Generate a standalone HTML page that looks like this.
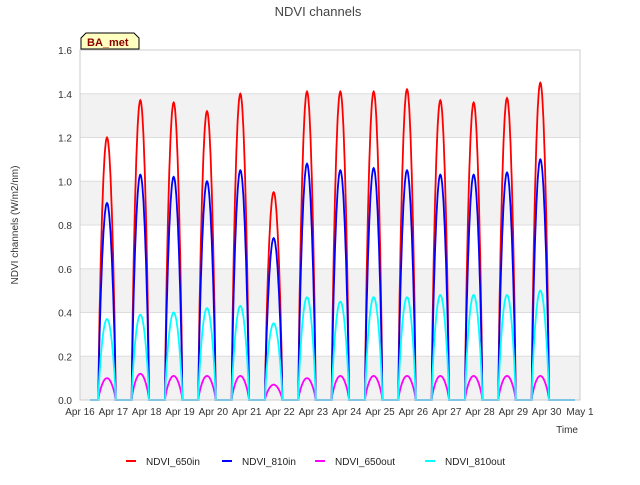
<!DOCTYPE html>
<html><head><meta charset="utf-8"><style>
body{margin:0;background:#fff;font-family:"Liberation Sans","DejaVu Sans",sans-serif}
</style></head><body>
<svg id="c" width="640" height="480" xmlns="http://www.w3.org/2000/svg">
<rect width="640" height="480" fill="#fff"/>
<text x="318" y="16" text-anchor="middle" font-size="13" fill="#444">NDVI channels</text>
<g id="bands"></g><g id="grid"></g>
<g id="series"></g>
<g id="axes"></g>
<text x="18" y="225" transform="rotate(-90 18 225)" text-anchor="middle" font-size="10" fill="#333">NDVI channels (W/m2/nm)</text>
<text x="578" y="433" text-anchor="end" font-size="10" fill="#333">Time</text>
<g>
<path d="M81,49 L81,38 L86,33 L134,33 L139,38 L139,49 Z" fill="#ffffc0" stroke="#000" stroke-width="1"/>
<text x="87" y="46" font-size="11" font-weight="bold" fill="#8b0000">BA_met</text></g>
<g id="legend"></g>
</svg>
<script>
const dayLabels=["Apr 16","Apr 17","Apr 18","Apr 19","Apr 20","Apr 21","Apr 22","Apr 23","Apr 24","Apr 25","Apr 26","Apr 27","Apr 28","Apr 29","Apr 30","May 1"];
const yTicks=[0,0.2,0.4,0.6,0.8,1.0,1.2,1.4,1.6];
const seriesNames=["NDVI_650in","NDVI_810in","NDVI_650out","NDVI_810out"];
const seriesColors=["#ff0000","#0000ff","#ff00ff","#00ffff"];
const peaks650in=[1.2,1.37,1.36,1.32,1.40,0.95,1.41,1.41,1.41,1.42,1.37,1.36,1.38,1.45];
const peaks810in=[0.9,1.03,1.02,1.0,1.05,0.74,1.08,1.05,1.06,1.05,1.03,1.03,1.04,1.1];
const peaks650out=[0.1,0.12,0.11,0.11,0.11,0.07,0.1,0.11,0.11,0.11,0.11,0.11,0.11,0.11];
const peaks810out=[0.37,0.39,0.40,0.42,0.43,0.35,0.47,0.45,0.47,0.47,0.48,0.48,0.48,0.5];
const allPeaks=[peaks650in,peaks810in,peaks650out,peaks810out];
const L=80,R=580,T=50,B=400;
const xs=d=>L+(d/15)*(R-L), ys=v=>B-(v/1.6)*(B-T);
const NS="http://www.w3.org/2000/svg";
function mk(tag,attrs,parent){const e=document.createElementNS(NS,tag);for(const k in attrs)e.setAttribute(k,attrs[k]);parent.appendChild(e);return e;}
const bands=document.getElementById('bands'),grid=document.getElementById('grid'),axes=document.getElementById('axes');
mk('rect',{x:L,y:T,width:R-L,height:B-T,fill:'#fff'},bands);
for(let i=1;i<yTicks.length;i+=2){
 const b=mk('rect',{x:L,y:ys(yTicks[i]),width:R-L,height:ys(yTicks[i-1])-ys(yTicks[i]),fill:'#f2f2f2'},bands);
 
 
}
yTicks.forEach(v=>{
 const l=mk('line',{x1:L,x2:R,y1:ys(v),y2:ys(v),stroke:'#ddd','stroke-width':1},grid);
 
 
 const t=mk('text',{x:L-8,y:ys(v)+4,'text-anchor':'end','font-size':10,fill:'#333'},axes);
 t.textContent=v.toFixed(1);
 
 
});
dayLabels.forEach((s,i)=>{
 const t=mk('text',{x:xs(i),y:415,'text-anchor':'middle','font-size':10,fill:'#333'},axes);
 t.textContent=s;
 
 
});
mk('rect',{x:L,y:T,width:R-L,height:B-T,fill:'none',stroke:'#ccc'},axes);
const sg=document.getElementById('series');
allPeaks.forEach((pk,si)=>{
 let pts=[];
 pts.push([0.3,0]);
 pk.forEach((p,d)=>{
  const s=d+0.55,w=0.52;
  pts.push([s,0]);
  for(let k=1;k<40;k++){const f=k/40;pts.push([s+f*w,p*Math.pow(Math.sin(Math.PI*f),0.75)]);}
  pts.push([s+w,0]);
 });
 pts.push([14.85,0]);
 const p=mk('polyline',{points:pts.map(q=>xs(q[0]).toFixed(1)+','+ys(q[1]).toFixed(1)).join(' '),fill:'none',stroke:seriesColors[si],'stroke-width':1.8},sg);
 
 
});
const lg=document.getElementById('legend');
const lx=[126,222,315,425];
seriesNames.forEach((n,i)=>{
 const g=mk('g',{},lg);
 
 
 mk('line',{x1:lx[i],x2:lx[i]+10,y1:461,y2:461,stroke:seriesColors[i],'stroke-width':2},g);
 const t=mk('text',{x:lx[i]+20,y:465,'font-size':10,fill:'#222'},g);
 t.textContent=n;
});
</script>
</body></html>
